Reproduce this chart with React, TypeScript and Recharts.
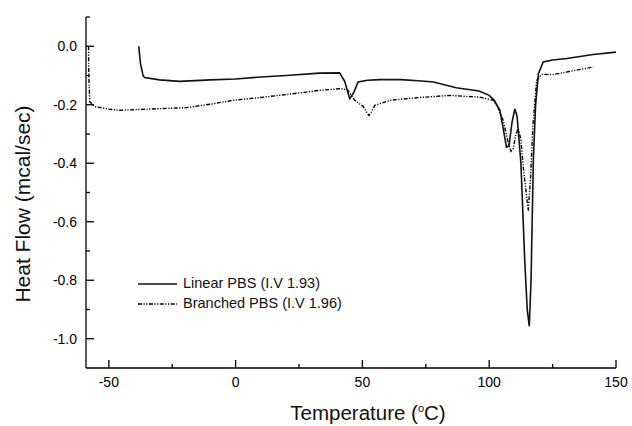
import React from 'react';
import { LineChart, Line, XAxis, YAxis } from 'recharts';

const xTicks = [-50, -25, 0, 25, 50, 75, 100, 125, 150];
const yTicks = [0.1, 0, -0.1, -0.2, -0.3, -0.4, -0.5, -0.6, -0.7, -0.8, -0.9, -1.0];

const linearPBS = [
  { x: -38.2, y: 0.0 }, { x: -37.5, y: -0.06 }, { x: -36.5, y: -0.1 }, { x: -35.9, y: -0.107 },
  { x: -30, y: -0.115 }, { x: -22, y: -0.12 }, { x: -10, y: -0.115 }, { x: 0, y: -0.112 },
  { x: 10, y: -0.105 }, { x: 20, y: -0.1 }, { x: 33, y: -0.092 }, { x: 41, y: -0.091 },
  { x: 43, y: -0.12 }, { x: 45, y: -0.179 }, { x: 46.5, y: -0.16 }, { x: 48.3, y: -0.122 },
  { x: 52, y: -0.116 }, { x: 57, y: -0.114 }, { x: 65, y: -0.114 }, { x: 72, y: -0.118 },
  { x: 78, y: -0.122 }, { x: 87, y: -0.142 }, { x: 96, y: -0.153 }, { x: 100, y: -0.168 },
  { x: 102, y: -0.185 }, { x: 104.2, y: -0.219 }, { x: 105.5, y: -0.28 }, { x: 106.8, y: -0.345 },
  { x: 107.8, y: -0.34 }, { x: 109, y: -0.26 }, { x: 110.1, y: -0.214 }, { x: 111, y: -0.24 },
  { x: 112.5, y: -0.4 }, { x: 114, y: -0.73 }, { x: 115, y: -0.9 }, { x: 115.8, y: -0.957 },
  { x: 116.5, y: -0.8 }, { x: 117.4, y: -0.39 }, { x: 118.3, y: -0.2 }, { x: 119.4, y: -0.094 },
  { x: 121.3, y: -0.054 }, { x: 125, y: -0.047 }, { x: 130.6, y: -0.042 }, { x: 141, y: -0.028 },
  { x: 150, y: -0.02 },
];

const branchedPBS = [
  { x: -58.0, y: 0.0 }, { x: -57.9, y: -0.1 }, { x: -57.5, y: -0.19 }, { x: -55.6, y: -0.206 },
  { x: -50, y: -0.215 }, { x: -45.8, y: -0.219 }, { x: -35, y: -0.215 }, { x: -19.5, y: -0.21 },
  { x: -10, y: -0.198 }, { x: -1, y: -0.185 }, { x: 10, y: -0.175 }, { x: 20, y: -0.165 },
  { x: 33, y: -0.151 }, { x: 41, y: -0.145 }, { x: 44, y: -0.148 }, { x: 47, y: -0.185 },
  { x: 50.3, y: -0.206 }, { x: 52.6, y: -0.237 }, { x: 53.5, y: -0.225 }, { x: 54.9, y: -0.202 },
  { x: 60.8, y: -0.185 }, { x: 71.4, y: -0.176 }, { x: 84.5, y: -0.168 }, { x: 96.3, y: -0.174 },
  { x: 101.6, y: -0.185 }, { x: 103.5, y: -0.21 }, { x: 105.5, y: -0.254 }, { x: 107.5, y: -0.33 },
  { x: 108.6, y: -0.359 }, { x: 109.5, y: -0.35 }, { x: 110.5, y: -0.3 }, { x: 111.5, y: -0.282 },
  { x: 112.5, y: -0.32 }, { x: 113.5, y: -0.42 }, { x: 115.4, y: -0.562 }, { x: 116.3, y: -0.45 },
  { x: 117.2, y: -0.277 }, { x: 118.7, y: -0.117 }, { x: 120.7, y: -0.096 }, { x: 125, y: -0.097 },
  { x: 130.6, y: -0.088 }, { x: 141, y: -0.071 },
];

const FONT = '"Liberation Sans", Arial, Helvetica, sans-serif';
const DASH = '4 1.5 1.2 1.5 1.2 1.5';

const XTick = (props: any) => {
  const { x, y, payload } = props;
  const v = payload.value;
  const major = Math.round(v) % 50 === 0;
  return (
    <g>
      <line x1={x} x2={x} y1={y} y2={y - (major ? 8 : 4)} stroke="#000" strokeWidth={1.3} />
      {major && (
        <text x={x} y={y + 19} textAnchor="middle" fontSize={14} fontFamily={FONT} fill="#000">
          {v}
        </text>
      )}
    </g>
  );
};

const YTick = (props: any) => {
  const { x, y, payload } = props;
  const v = payload.value;
  const major = Math.abs(Math.round(v * 10)) % 2 === 0;
  return (
    <g>
      <line x1={x} x2={x + (major ? 8 : 4)} y1={y} y2={y} stroke="#000" strokeWidth={1.3} />
      {major && (
        <text x={x - 9} y={y + 5} textAnchor="end" fontSize={14} fontFamily={FONT} fill="#000">
          {Math.abs(v) < 1e-9 ? '0.0' : v.toFixed(1)}
        </text>
      )}
    </g>
  );
};

const LegendBox = () => (
  <div
    style={{
      position: 'absolute',
      left: 138,
      top: 274,
      fontFamily: FONT,
      fontSize: 14.5,
      color: '#111',
      lineHeight: '19.5px',
      whiteSpace: 'nowrap',
    }}
  >
    <div style={{ display: 'flex', alignItems: 'center', height: 19.5 }}>
      <svg width={45} height={19.5} style={{ display: 'block' }}>
        <line x1={0} x2={39} y1={10} y2={10} stroke="#111" strokeWidth={1.5} />
      </svg>
      <span>Linear PBS (I.V 1.93)</span>
    </div>
    <div style={{ display: 'flex', alignItems: 'center', height: 19.5 }}>
      <svg width={45} height={19.5} style={{ display: 'block' }}>
        <line x1={0} x2={39} y1={10} y2={10} stroke="#000" strokeWidth={1.4} strokeDasharray={DASH} />
      </svg>
      <span>Branched PBS (I.V 1.96)</span>
    </div>
  </div>
);

export default function App() {
  return (
    <div style={{ position: 'absolute', left: 0, top: 0, width: 632, height: 426, background: '#fff' }}>
      <LineChart width={632} height={426} margin={{ top: 17, right: 16, left: 0, bottom: 0 }}>
        <XAxis
          dataKey="x"
          type="number"
          domain={[-59, 150]}
          ticks={xTicks}
          interval={0}
          allowDataOverflow
          height={58}
          tickSize={0}
          tickMargin={0}
          tickLine={false}
          axisLine={{ stroke: '#000', strokeWidth: 1.3 }}
          tick={<XTick />}
        />
        <YAxis
          dataKey="y"
          type="number"
          domain={[-1.1, 0.1]}
          ticks={yTicks}
          interval={0}
          allowDataOverflow
          width={86}
          tickSize={0}
          tickMargin={0}
          tickLine={false}
          axisLine={{ stroke: '#000', strokeWidth: 1.3 }}
          tick={<YTick />}
        />
        <Line
          data={linearPBS}
          dataKey="y"
          name="Linear PBS (I.V 1.93)"
          type="linear"
          stroke="#111"
          strokeWidth={1.6}
          dot={false}
          isAnimationActive={false}
        />
        <Line
          data={branchedPBS}
          dataKey="y"
          name="Branched PBS (I.V 1.96)"
          type="linear"
          stroke="#000"
          strokeWidth={1.4}
          strokeDasharray={DASH}
          dot={false}
          isAnimationActive={false}
        />
      </LineChart>
      <LegendBox />
      <div
        style={{
          position: 'absolute',
          left: 23,
          top: 204,
          transform: 'translate(-50%, -50%) rotate(-90deg)',
          whiteSpace: 'nowrap',
          fontFamily: FONT,
          fontSize: 21,
          color: '#111',
        }}
      >
        Heat Flow (mcal/sec)
      </div>
      <div
        style={{
          position: 'absolute',
          left: 368,
          top: 413,
          transform: 'translate(-50%, -50%)',
          whiteSpace: 'nowrap',
          fontFamily: FONT,
          fontSize: 20.5,
          color: '#111',
        }}
      >
        Temperature (<sup style={{ fontSize: 11, verticalAlign: 'top', position: 'relative', top: 1 }}>o</sup>C)
      </div>
    </div>
  );
}
